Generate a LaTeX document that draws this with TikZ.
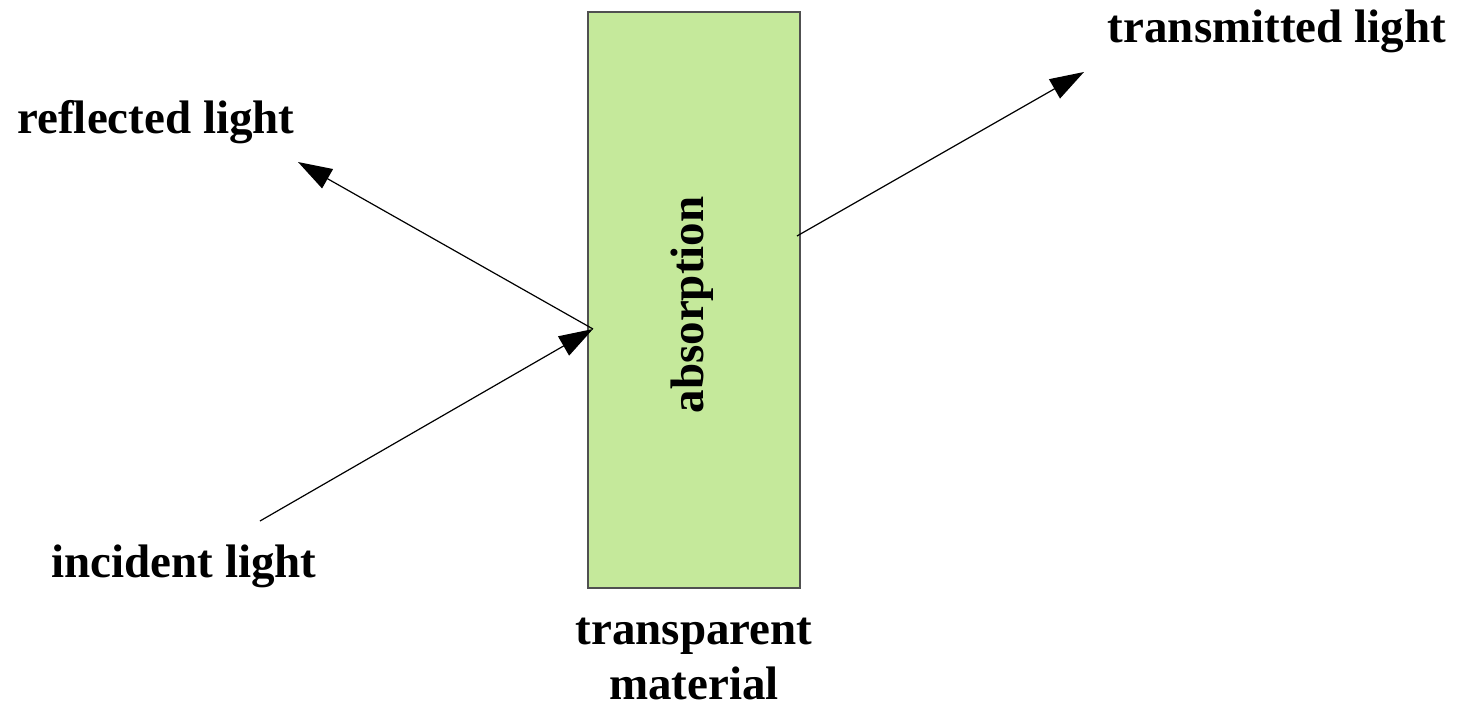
\documentclass[tikz,border=0pt]{standalone}
\usepackage{fontspec}
\setmainfont{Liberation Serif}
\usetikzlibrary{
    arrows.meta,
    positioning,
    calc
}
\definecolor{slabgreen}{HTML}{C5E99B}
\definecolor{slabedge}{HTML}{505050}
\tikzset{%
    >={Triangle[length=34pt,width=22pt]},
    % Specifications for style of nodes:
    plain/.style = {},
    label-text/.style = {
        plain, font=\fontsize{47}{55}\selectfont\bfseries,
        align=center, inner sep=0pt
    },
    slab/.style = {
        rectangle, draw=slabedge, fill=slabgreen, line width=1.5pt,
        minimum width=212pt, minimum height=576pt, inner sep=0pt
    },
    ray/.style = {->, line width=1.2pt}
}
\begin{document}
\begin{tikzpicture}[x=1pt, y=-1pt]
    \useasboundingbox (0,0) rectangle (1460,704);
    \node[slab] (M) at (694,300) {};
    \node[label-text, rotate=90] (A) at (692,305) {absorption};
    \node[label-text] (R) at (156,122) {reflected light};
    \node[label-text] (I) at (184,566) {incident light};
    \node[label-text] (T) at (1277,31) {transmitted light};
    \node[label-text] (TM) at (694,659) {transparent\\material};
    \coordinate (Istart) at (260,521);
    \coordinate (Hit) at (593,329);
    \coordinate (Rtip) at (298,162);
    \coordinate (Tstart) at (797,236);
    \coordinate (Ttip) at (1084,72);
    \draw[ray] (Istart) -- (Hit);
    \draw[ray] (Hit) -- (Rtip);
    \draw[ray] (Tstart) -- (Ttip);
\end{tikzpicture}
\end{document}
